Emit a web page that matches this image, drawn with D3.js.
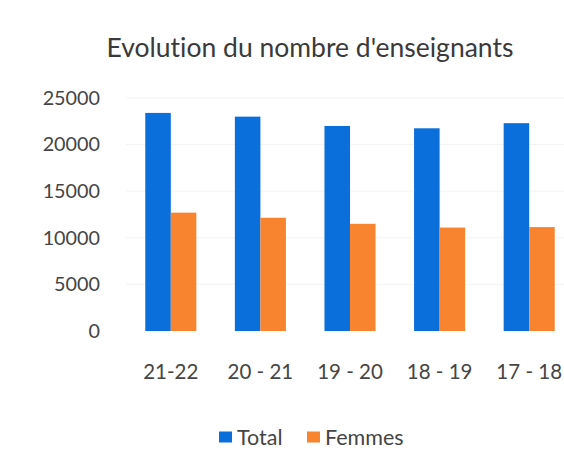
<!DOCTYPE html>
<html>
<head>
<meta charset="utf-8">
<script src="https://cdn.jsdelivr.net/npm/d3@7"></script>
<style>
  body { margin: 0; background: #fff; }
  svg { display: block; font-family: Lato, "Open Sans", sans-serif; font-variant-ligatures: none; }
</style>
</head>
<body>
<div class="container"></div>
<script>
// data
const categories = ["21-22", "20 - 21", "19 - 20", "18 - 19", "17 - 18"]
const total = [23400, 23000, 22000, 21750, 22300]
const femmes = [12700, 12150, 11500, 11100, 11150]
const yTicks = [0, 5000, 10000, 15000, 20000, 25000]
const seriesNames = ["Total", "Femmes"]
const seriesColors = ["#0b6fdb", "#f8842f"]

const width = 564
const height = 468

const svg = d3.select(".container")
    .append("svg")
    .attr("width", width)
    .attr("height", height)

const x = d3.scaleBand()
    .domain(categories)
    .range([126, 574])
    .paddingInner(0.43)
    .paddingOuter(0.215)

const xSub = d3.scaleBand()
    .domain(seriesNames)
    .range([0, x.bandwidth()])

const y = d3.scaleLinear()
    .domain([0, 25000])
    .range([331, 98])

// faint gridlines
svg.append("g")
    .selectAll("line")
    .data(yTicks.slice(1))
    .join("line")
    .attr("x1", 126)
    .attr("x2", 574)
    .attr("y1", d => y(d))
    .attr("y2", d => y(d))
    .attr("stroke", "#f3f3f3")
    .attr("stroke-width", 1)

// y axis labels
const yAxis = svg.append("g")
    .attr("transform", "translate(100,0)")
    .call(d3.axisLeft(y).tickValues(yTicks).tickFormat(d3.format("d")).tickSize(0).tickPadding(0))
yAxis.select(".domain").remove()
yAxis.selectAll("text")
    .attr("font-size", 19.8)
    .attr("fill", "#454545")
    .attr("font-family", "Lato")

// bars
const rows = categories.map((c, i) => ({ c, values: [total[i], femmes[i]] }))

svg.append("g")
    .selectAll("g")
    .data(rows)
    .join("g")
    .attr("transform", d => `translate(${x(d.c)},0)`)
    .selectAll("rect")
    .data(d => d.values.map((v, j) => ({ name: seriesNames[j], v, color: seriesColors[j] })))
    .join("rect")
    .attr("x", d => xSub(d.name))
    .attr("width", xSub.bandwidth())
    .attr("y", d => y(d.v))
    .attr("height", d => y(0) - y(d.v))
    .attr("fill", d => d.color)

// category labels
const xAxis = svg.append("g")
    .attr("transform", "translate(0,372)")
    .call(d3.axisBottom(x).tickSize(0).tickPadding(0))
xAxis.select(".domain").remove()
xAxis.selectAll("text")
    .attr("dy", "0.35em")
    .attr("font-size", 20.5)
    .attr("fill", "#454545")
    .attr("font-family", "Lato")

// title
svg.append("text")
    .attr("x", 310)
    .attr("y", 48)
    .attr("dy", "0.35em")
    .attr("text-anchor", "middle")
    .attr("font-size", 26.5)
    .attr("fill", "#3a3a3a")
    .text("Evolution du nombre d'enseignants")

// legend
const legendX = [219, 307]
const legend = svg.append("g")
    .selectAll("g")
    .data(seriesNames)
    .join("g")
    .attr("transform", (d, i) => `translate(${legendX[i]},437)`)
legend.append("rect")
    .attr("x", 0)
    .attr("y", -5.5)
    .attr("width", 13)
    .attr("height", 11)
    .attr("fill", (d, i) => seriesColors[i])
legend.append("text")
    .attr("x", 18)
    .attr("dy", "0.35em")
    .attr("font-size", 21.5)
    .attr("fill", "#454545")
    .text(d => d)
</script>
</body>
</html>
